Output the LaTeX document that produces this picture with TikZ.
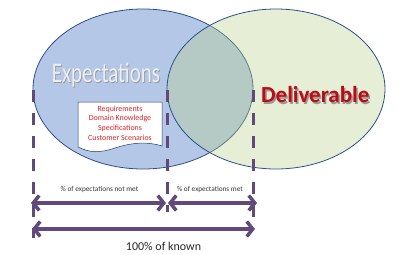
\documentclass[tikz,border=0pt]{standalone}
\usepackage{fontspec}
\setmainfont{Carlito}
\usetikzlibrary{shapes.geometric,arrows.meta}
\definecolor{blueFill}{RGB}{180,199,230}
\definecolor{ellBorder}{RGB}{45,80,140}
\definecolor{greenFill}{RGB}{183,209,135}
\definecolor{arrowPurple}{RGB}{96,74,123}
\definecolor{noteRed}{RGB}{225,30,40}
\definecolor{delRed}{RGB}{190,10,20}
\tikzset{
  ellbase/.style={ellipse, draw=ellBorder, line width=0.8pt, inner sep=0pt},
  dashline/.style={draw=arrowPurple, line width=3pt, dash pattern=on 12pt off 11pt},
  bigarrow/.style={draw=arrowPurple, line width=3.5pt, {Straight Barb[length=6pt,width=15pt]}-{Straight Barb[length=6pt,width=15pt]}},
  smalllabel/.style={font=\fontsize{7.3}{8}\selectfont, text=black!80, inner sep=0pt},
}
\begin{document}
\begin{tikzpicture}[x=1pt,y=-1pt]
\useasboundingbox (0,0) rectangle (400,255);
% ellipses
\node[ellbase, fill=blueFill, minimum width=220pt, minimum height=160pt] (expell) at (143,89) {};
\node[ellbase, fill=greenFill, fill opacity=0.35, minimum width=218pt, minimum height=160pt] (delell) at (276,89) {};
% titles
\node[font=\fontsize{21}{21}\selectfont, text=black!40, yscale=1.35, inner sep=0pt] (expsh) at (106.8,75.8) {Expectations};
\node[font=\fontsize{21}{21}\selectfont, text={rgb,255:red,236;green,239;blue,244}, yscale=1.35, inner sep=0pt] (exptxt) at (106,75) {Expectations};
\node[font=\bfseries\fontsize{23}{23}\selectfont, text=black!40, inner sep=0pt] (delsh) at (316.8,96.3) {Deliverable};
\node[font=\bfseries\fontsize{23}{23}\selectfont, text=delRed, inner sep=0pt] (deltxt) at (315.3,94.5) {Deliverable};
% note
\draw[fill=white, draw=ellBorder!70!black, line width=0.5pt]
  (78,102) -- (162,102) -- (162,146)
  .. controls (146,141) and (130,143) .. (115,148)
  .. controls (100,153) and (90,153) .. (78,147) -- cycle;
\node[align=center, font=\fontsize{7.9}{9.7}\selectfont, text=noteRed, inner sep=0pt] (note) at (120,123)
  {Requirements\\Domain Knowledge\\Specifications\\Customer Scenarios};
% dashed lines
\coordinate (l1) at (33,90); \coordinate (l2) at (33,238);
\coordinate (m1) at (167,90); \coordinate (m2) at (167,212);
\coordinate (r1) at (253,90); \coordinate (r2) at (253,219);
\draw[dashline] (l1) -- (l2);
\draw[dashline] (m1) -- (m2);
\draw[dashline] (r1) -- (r2);
% arrows
\coordinate (a1) at (31,203); \coordinate (a2) at (166,203);
\coordinate (b1) at (168,203); \coordinate (b2) at (257,203);
\coordinate (c1) at (32,229); \coordinate (c2) at (255,229);
\draw[bigarrow] (a1) -- (a2);
\draw[bigarrow] (b1) -- (b2);
\draw[bigarrow] (c1) -- (c2);
% labels
\node[smalllabel] (notmet) at (99.5,189.5) {\% of expectations not met};
\node[smalllabel] (met) at (210,189.5) {\% of expectations met};
\node[font=\fontsize{12}{13}\selectfont, text=black!85, inner sep=0pt] (known) at (163.5,246) {100\% of known};
\end{tikzpicture}
\end{document}
